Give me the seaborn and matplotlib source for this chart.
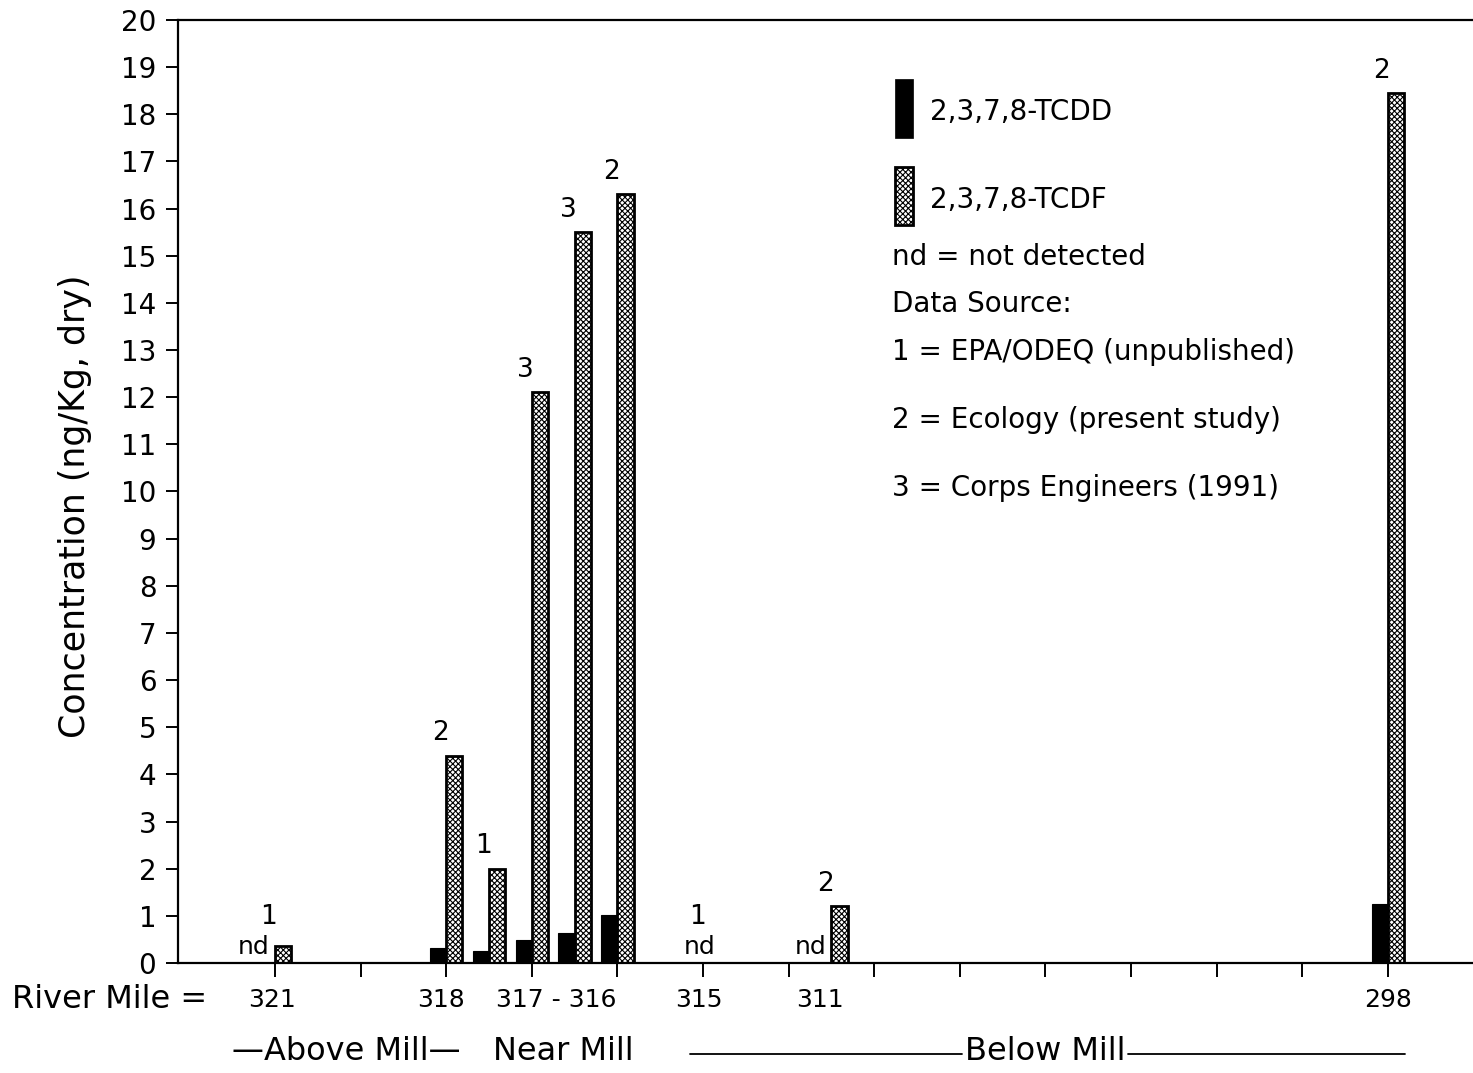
import numpy as np
import pandas as pd
import matplotlib
matplotlib.use("Agg")
import matplotlib.pyplot as plt
import matplotlib.transforms as mtransforms
from matplotlib.patches import Rectangle
from matplotlib.lines import Line2D
import seaborn as sns

# ---------------- data ----------------
site_pos = [0, 2, 2.5, 3, 3.5, 4, 5, 6.5, 13]          # along-river slot of each sample
tcdd = [np.nan, 0.32, 0.25, 0.49, 0.64, 1.02, np.nan, np.nan, 1.25]
tcdf = [0.35, 4.4, 2.0, 12.1, 15.5, 16.3, np.nan, 1.21, 18.45]
source = ["1", "2", "1", "3", "3", "2", "1", "2", "2"]
tcdd_nd = [True, False, False, False, False, False, True, True, False]

mile_labels = ["321", "318", "317 - 316", "315", "311", "298"]
mile_label_pos = [-0.035, 1.94, 3.28, 4.95, 6.37, 13.0]
compounds = ["2,3,7,8-TCDD", "2,3,7,8-TCDF"]
legend_notes = ["nd = not detected", "Data Source:",
                "1 = EPA/ODEQ (unpublished)",
                "2 = Ecology (present study)",
                "3 = Corps Engineers (1991)"]

df = pd.DataFrame({
    "pos": site_pos * 2,
    "value": tcdd + tcdf,
    "compound": [compounds[0]] * len(site_pos) + [compounds[1]] * len(site_pos),
})

# ---------------- style ----------------
sns.set_theme(style="white")
plt.rcParams["font.family"] = ["DejaVu Sans"]
plt.rcParams["text.color"] = "black"
plt.rcParams["axes.labelcolor"] = "black"
plt.rcParams["xtick.color"] = "black"
plt.rcParams["ytick.color"] = "black"
plt.rcParams["hatch.linewidth"] = 0.8
plt.rcParams["hatch.color"] = "black"

W, H = 1473, 1073
fig = plt.figure(figsize=(W / 100, H / 100), dpi=100)
ax = fig.add_axes([178 / W, 110 / H, 1 - 178 / W, (963 - 20) / H])

sns.barplot(data=df, x="pos", y="value", hue="compound", hue_order=compounds,
            native_scale=True, width=0.76, dodge=True, errorbar=None,
            palette=["black", "white"], legend=False, ax=ax)

for i, cont in enumerate(ax.containers):
    for p in cont.patches:
        if i == 0:
            p.set_facecolor("black")
            p.set_edgecolor("black")
            p.set_linewidth(0.8)
        else:
            p.set_facecolor("white")
            p.set_edgecolor("black")
            p.set_hatch("xxxxxx")
            p.set_linewidth(2.0)

ax.set_xlim(-1.133, 13.995)
ax.set_ylim(0, 20)
ax.set_yticks(range(0, 21))
ax.set_xticks(range(0, 14))
ax.set_xticklabels([])
ax.set_xlabel("")
ax.tick_params(axis="y", direction="out", length=8.6, width=1.4, labelsize=20,
               pad=7, left=True, colors="black")
ax.tick_params(axis="x", direction="out", length=10, width=1.4, bottom=True,
               colors="black")
for s in ["left", "bottom", "top"]:
    ax.spines[s].set_visible(True)
    ax.spines[s].set_linewidth(1.6)
    ax.spines[s].set_color("black")
ax.spines["right"].set_visible(False)
ax.grid(False)

ax.set_ylabel("Concentration (ng/Kg, dry)", fontsize=25, color="black")
ax.yaxis.set_label_coords(-0.0664, 0.484)

# source labels and nd markers
for x, d, f, s, nd in zip(site_pos, tcdd, tcdf, source, tcdd_nd):
    top = 0 if np.isnan(f) else f
    ylab = max(top + 0.2, 0.7)
    ax.text(x - 0.07, ylab, s, ha="center", va="bottom", fontsize=19,
            color="black")
    if nd:
        if np.isnan(f):
            ax.text(x - 0.04, 0.08, "nd", ha="center", va="bottom", fontsize=18,
                    color="black")
        else:
            ax.text(x - 0.06, 0.08, "nd", ha="right", va="bottom", fontsize=18,
                    color="black")

# river mile labels
tr_x = mtransforms.blended_transform_factory(ax.transData, fig.transFigure)
for lab, xp in zip(mile_labels, mile_label_pos):
    ax.text(xp, (H - 1000) / H, lab, transform=tr_x, ha="center", va="center",
            fontsize=18, color="black")
fig.text(12 / W, (H - 1000) / H, "River Mile =", ha="left", va="center",
         fontsize=23, color="black")

# reach labels
yb = (H - 1052) / H
fig.text(346 / W, yb, "\u2014Above Mill\u2014", ha="center", va="center",
         fontsize=23, color="black")
fig.text(563 / W, yb, "Near Mill", ha="center", va="center", fontsize=23,
         color="black")
fig.text(1045 / W, yb, "Below Mill", ha="center", va="center", fontsize=23,
         color="black")
yl = (H - 1054) / H
fig.add_artist(Line2D([690 / W, 962 / W], [yl, yl], transform=fig.transFigure,
                      color="black", lw=1.3))
fig.add_artist(Line2D([1128 / W, 1405 / W], [yl, yl], transform=fig.transFigure,
                      color="black", lw=1.3))

# legend block
ax.add_patch(Rectangle((7.243, 17.50), 0.21, 1.25, facecolor="black",
                       edgecolor="black", lw=0.5))
ax.add_patch(Rectangle((7.243, 15.65), 0.21, 1.23, facecolor="white",
                       edgecolor="black", hatch="xxxxxx", lw=2.0))
ax.text(7.65, 18.05, compounds[0], ha="left", va="center", fontsize=20,
        color="black")
ax.text(7.65, 16.18, compounds[1], ha="left", va="center", fontsize=20,
        color="black")
for txt, yy in zip(legend_notes, [14.97, 13.98, 12.96, 11.52, 10.07]):
    ax.text(7.21, yy, txt, ha="left", va="center", fontsize=20, color="black")

fig.savefig("out.png", dpi=100, facecolor="white")
